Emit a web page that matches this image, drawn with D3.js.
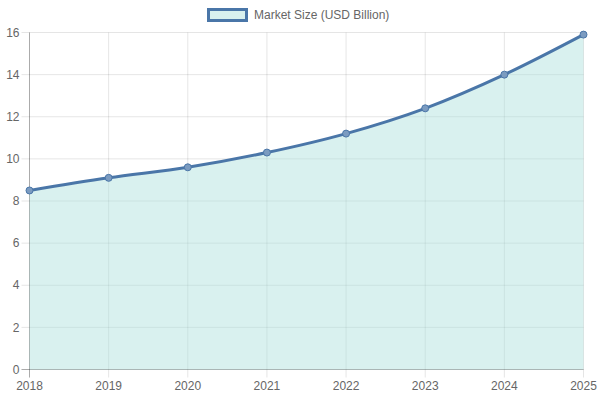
<!DOCTYPE html>
<html><head><meta charset="utf-8">
<script src="https://cdn.jsdelivr.net/npm/d3@7"></script>
<style>html,body{margin:0;padding:0;background:#fff;}svg{display:block;font-family:"Liberation Sans",Arial,Helvetica,sans-serif;}</style>
</head><body>
<svg id="c" width="600" height="400"></svg>
<script>
const years = ["2018","2019","2020","2021","2022","2023","2024","2025"];
const marketSize = [8.5, 9.1, 9.6, 10.3, 11.2, 12.4, 14.0, 15.9];
const yTicks = [0,2,4,6,8,10,12,14,16];
const seriesLabel = "Market Size (USD Billion)";

const svg = d3.select("#c");
const m = {l:29.5, r:583.5, t:32.5, b:369.5};
const x = d3.scalePoint().domain(years).range([m.l, m.r]);
const y = d3.scaleLinear().domain([0,16]).range([m.b, m.t]);
const lineColor = "#4a76a8";
const fillColor = "rgba(170,224,220,0.45)";
const grid = "rgba(0,0,0,0.1)";

const g = svg.append("g");
g.selectAll(".hy").data(yTicks).join("line")
  .attr("x1", m.l-8).attr("x2", m.r).attr("y1", d=>y(d)).attr("y2", d=>y(d))
  .attr("stroke", grid);
g.selectAll(".vx").data(years).join("line")
  .attr("x1", d=>x(d)).attr("x2", d=>x(d)).attr("y1", m.t).attr("y2", m.b+8)
  .attr("stroke", grid);
g.append("line").attr("x1", m.l).attr("x2", m.l).attr("y1", m.t).attr("y2", m.b+8).attr("stroke","rgba(0,0,0,0.25)");
g.append("line").attr("x1", m.l-8).attr("x2", m.r).attr("y1", m.b).attr("y2", m.b).attr("stroke","rgba(0,0,0,0.25)");

svg.append("g").selectAll("text").data(yTicks).join("text")
  .attr("x", m.l-10).attr("y", d=>y(d)).attr("dy","0.35em")
  .attr("text-anchor","end").attr("font-size",12).attr("fill","#666").text(d=>d);
svg.append("g").selectAll("text").data(years).join("text")
  .attr("x", d=>x(d)).attr("y", m.b+16).attr("dy","0.35em")
  .attr("text-anchor","middle").attr("font-size",12).attr("fill","#666").text(d=>d);

const data = years.map((yr,i)=>({yr, v:marketSize[i]}));
const curve = d3.curveMonotoneX;
svg.append("path").datum(data)
  .attr("d", d3.area().x(d=>x(d.yr)).y0(y(0)).y1(d=>y(d.v)).curve(curve))
  .attr("fill", fillColor);
svg.append("path").datum(data)
  .attr("d", d3.line().x(d=>x(d.yr)).y(d=>y(d.v)).curve(curve))
  .attr("fill","none").attr("stroke", lineColor).attr("stroke-width",3);
svg.append("g").selectAll("circle").data(data).join("circle")
  .attr("cx", d=>x(d.yr)).attr("cy", d=>y(d.v)).attr("r",3.5)
  .attr("fill","#7b9bc0").attr("stroke", lineColor).attr("stroke-width",1);

const lg = svg.append("g");
lg.append("rect").attr("x",208.5).attr("y",9.5).attr("width",38).attr("height",11)
  .attr("fill","#d8f0ee").attr("stroke",lineColor).attr("stroke-width",3);
lg.append("text").attr("x",254).attr("y",15).attr("dy","0.35em")
  .attr("font-size",12).attr("fill","#666").text(seriesLabel);
</script>
</body></html>
